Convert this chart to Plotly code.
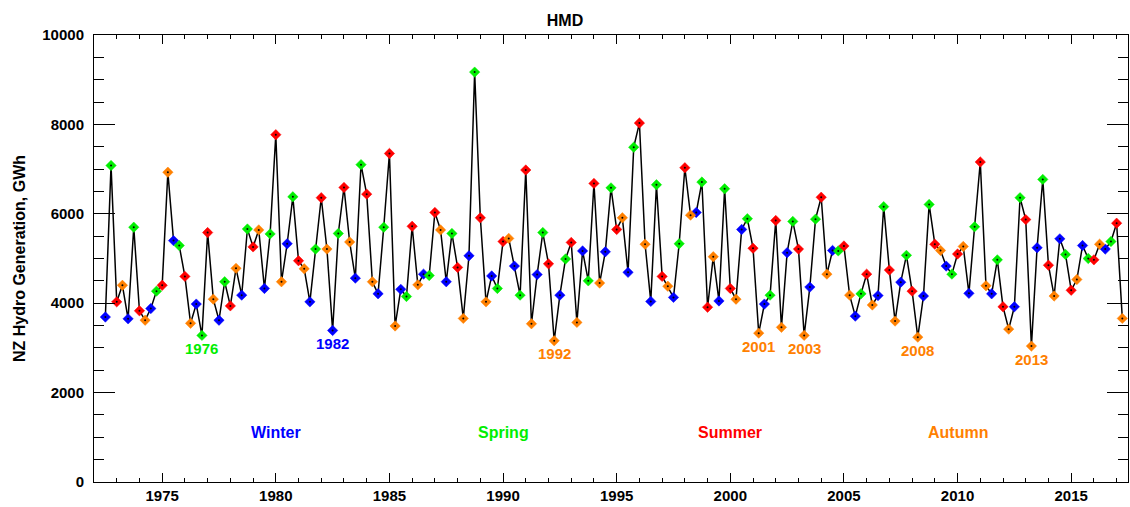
import plotly.graph_objects as go

# ---- data ----
start_time = 1972.5          # first quarter (winter 1972), decimal year
quarter_step = 0.25
seasons = ["Winter", "Spring", "Summer", "Autumn"]
season_colors = ["#0000ff", "#00ee00", "#ff0000", "#ff8000"]

values = [
    3690, 7080, 4030, 4400, 3650, 5700, 3830, 3620, 3880, 4270,
    4400, 6930, 5400, 5290, 4600, 3550, 3980, 3280, 5580, 4090,
    3620, 4480, 3940, 4780, 4180, 5660, 5260, 5640, 4330, 5550,
    7770, 4480, 5330, 6380, 4950, 4770, 4030, 5210, 6360, 5210,
    3390, 5560, 6590, 5370, 4560, 7100, 6440, 4480, 4210, 5700,
    7350, 3490, 4310, 4150, 5720, 4410, 4650, 4620, 6030, 5640,
    4480, 5560, 4800, 3660, 5060, 9170, 5910, 4030, 4610, 4330,
    5380, 5450, 4830, 4180, 6980, 3540, 4640, 5580, 4880, 3160,
    4180, 4990, 5360, 3570, 5170, 4500, 6680, 4450, 5150, 6580,
    5650, 5910, 4690, 7490, 8030, 5320, 4040, 6650, 4600, 4380,
    4130, 5330, 7030, 5970, 6030, 6710, 3910, 5040, 4050, 6560,
    4330, 4090, 5650, 5890, 5230, 3330, 3980, 4180, 5850, 3460,
    5130, 5830, 5210, 3280, 4360, 5880, 6370, 4650, 5180, 5170,
    5280, 4180, 3710, 4210, 4650, 3960, 4170, 6160, 4740, 3600,
    4470, 5070, 4270, 3240, 4160, 6210, 5320, 5180, 4830, 4650,
    5100, 5270, 4220, 5710, 7160, 4390, 4210, 4970, 3920, 3420,
    3920, 6360, 5870, 3040, 5240, 6770, 4850, 4160, 5440, 5090,
    4290, 4530, 5290, 5000, 4970, 5320, 5210, 5380, 5790, 3660,
]

label_times = [1976.75, 1982.5, 1992.25, 2001.25, 2003.25, 2008.25, 2013.25]
label_texts = ["1976", "1982", "1992", "2001", "2003", "2008", "2013"]

season_label_x = [1980, 1990, 2000, 2010]
season_label_y = 1100

x_range = [1972, 2017.5]
y_range = [0, 10000]

# ---- derived ----
times = [start_time + quarter_step * i for i in range(len(values))]
season_of = [i % 4 for i in range(len(values))]

FONT = "Liberation Sans, Arial, Helvetica, sans-serif"

fig = go.Figure()

fig.add_trace(go.Scatter(
    x=times, y=values, mode="lines",
    line=dict(color="black", width=1.5),
    hoverinfo="skip", showlegend=False,
))

for s, name in enumerate(seasons):
    xs = [t for t, k in zip(times, season_of) if k == s]
    ys = [v for v, k in zip(values, season_of) if k == s]
    fig.add_trace(go.Scatter(
        x=xs, y=ys, mode="markers", name=name,
        marker=dict(symbol="diamond", size=8, color=season_colors[s],
                    line=dict(width=0.5, color=season_colors[s])),
        showlegend=False,
    ))

fig.add_trace(go.Scatter(
    x=times, y=values, mode="markers",
    marker=dict(symbol="circle", size=2, color="black"),
    hoverinfo="skip", showlegend=False,
))

annotations = []
for t, txt in zip(label_times, label_texts):
    i = min(range(len(times)), key=lambda j: abs(times[j] - t))
    annotations.append(dict(
        x=times[i], y=values[i], text=txt, showarrow=False,
        yshift=-13, yanchor="middle", xanchor="center",
        font=dict(family=FONT, size=15, color=season_colors[season_of[i]],
                  weight="bold"),
    ))

for sx, name, col in zip(season_label_x, seasons, season_colors):
    annotations.append(dict(
        x=sx, y=season_label_y, text=name, showarrow=False,
        xanchor="center", yanchor="middle",
        font=dict(family=FONT, size=16, color=col, weight="bold"),
    ))

fig.update_layout(
    width=1130, height=507,
    margin=dict(l=94, r=2, t=35, b=25),
    paper_bgcolor="white", plot_bgcolor="white",
    font=dict(family=FONT, size=15, color="black", weight="bold"),
    title=dict(text="HMD", x=0.5, xref="container", xanchor="center",
               y=1 - 20 / 507, yref="container", yanchor="middle",
               font=dict(family=FONT, size=16, color="black", weight="bold")),
    annotations=annotations,
    showlegend=False,
)

fig.update_xaxes(
    range=x_range, tick0=1975, dtick=5, ticks="inside", ticklen=9,
    tickwidth=1, tickcolor="black", tickformat="d",
    minor=dict(dtick=1, ticks="inside", ticklen=4, tickcolor="black", tickwidth=1),
    showline=True, linecolor="black", linewidth=1, mirror="allticks",
    showgrid=False, zeroline=False, automargin=False,
    tickfont=dict(family=FONT, size=15, color="black", weight="bold"),
)
fig.update_yaxes(
    range=y_range, tick0=0, dtick=2000, ticks="inside", ticklen=21,
    tickwidth=1, tickcolor="black", tickformat="d",
    minor=dict(dtick=500, ticks="inside", ticklen=10, tickcolor="black", tickwidth=1),
    showline=True, linecolor="black", linewidth=1, mirror="allticks",
    showgrid=False, zeroline=False, automargin=False,
    ticklabelstandoff=6,
    tickfont=dict(family=FONT, size=15, color="black", weight="bold"),
    title=dict(text="NZ Hydro Generation, GWh", standoff=12,
               font=dict(family=FONT, size=16, color="black", weight="bold")),
)

fig.write_html("out.html")
